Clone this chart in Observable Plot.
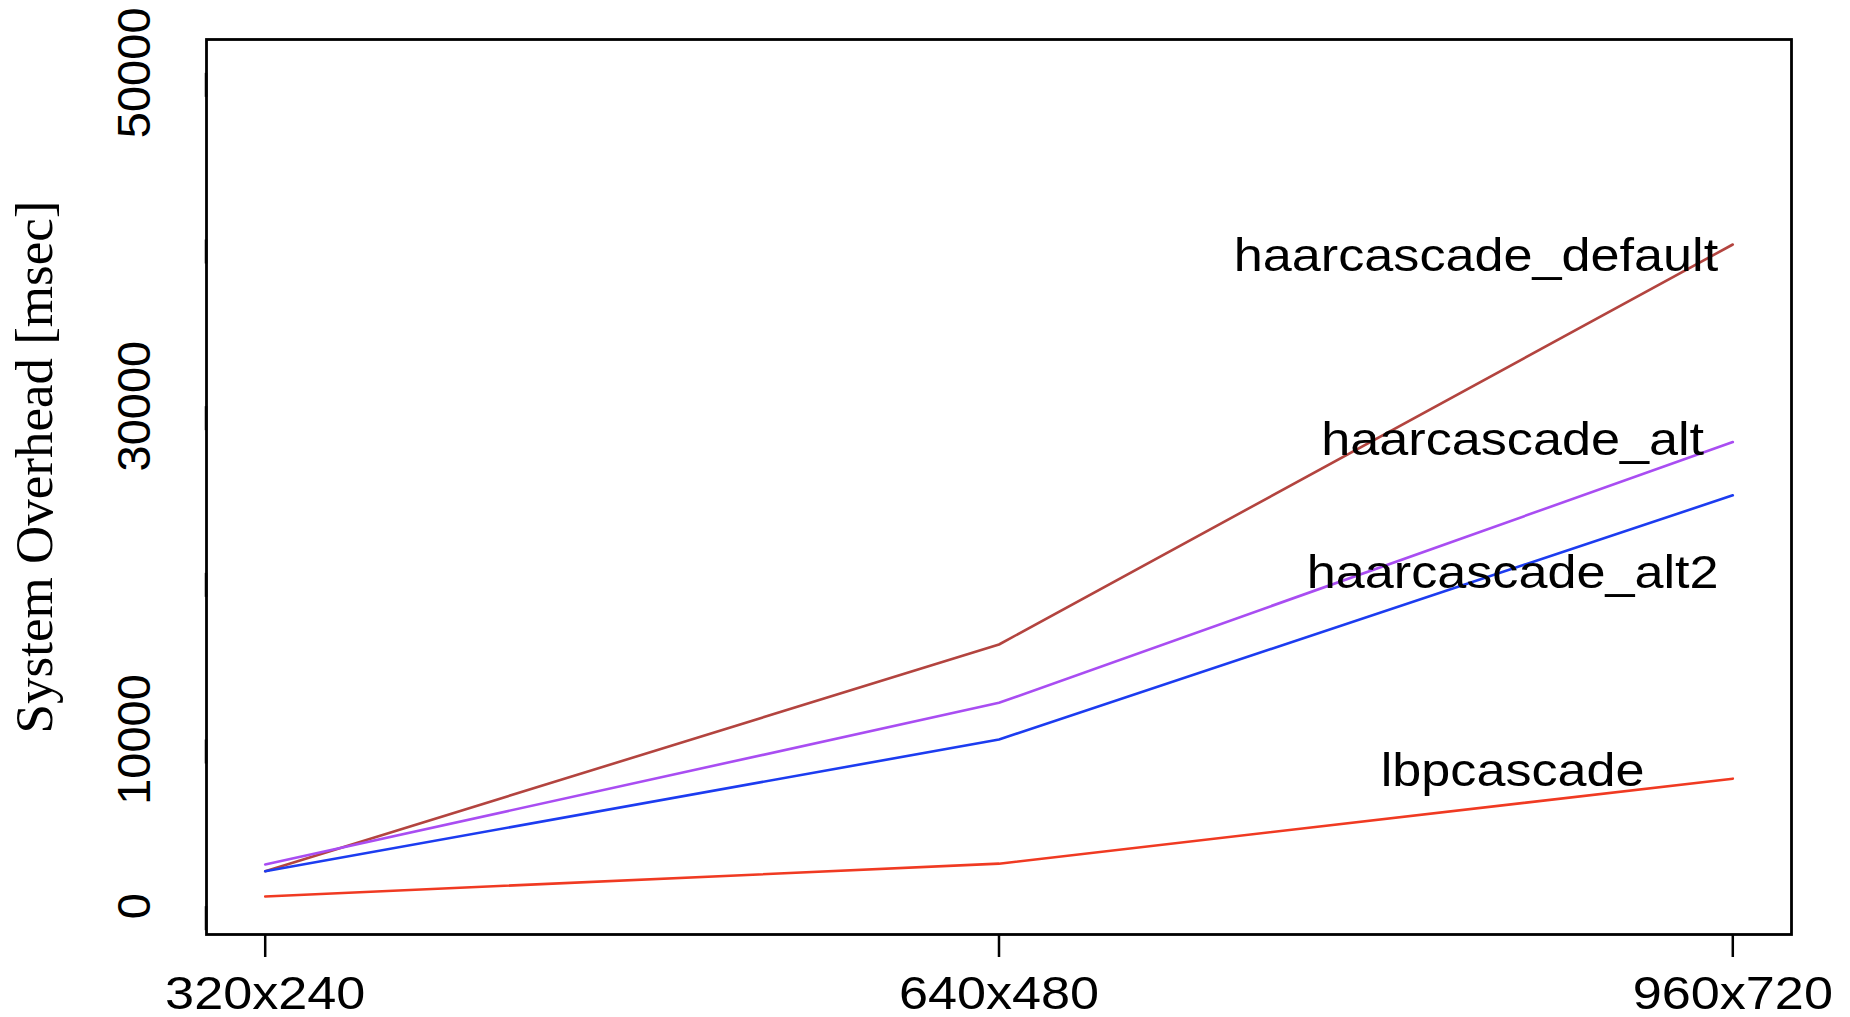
<!DOCTYPE html>
<html>
<head>
<meta charset="utf-8">
<script src="https://cdn.jsdelivr.net/npm/d3@7"></script>
<script src="https://cdn.jsdelivr.net/npm/@observablehq/plot@0.6"></script>
<style>
  html, body { margin: 0; padding: 0; background: #fff; }
</style>
</head>
<body>
<div id="chart"></div>
<script>
// Categories (x positions 1..3)
const resolutions = ["320x240", "640x480", "960x720"];
const xIndex = [1, 2, 3];

// Series names and values (msec)
const seriesNames = ["haarcascade_default", "haarcascade_alt", "haarcascade_alt2", "lbpcascade"];
const haarDefault = [2100, 15700, 39700];
const haarAlt     = [2500, 12200, 27850];
const haarAlt2    = [2100, 10000, 24650];
const lbpCascade  = [580, 2550, 7650];
const seriesColors = ["#b3443f", "#a94df2", "#1c3cf0", "#f03a22"];

// Label placements (x index, y value)
const labelX = [2.65, 2.7, 2.7, 2.7];
const labelY = [39000, 28000, 20000, 8100];

// Y ticks (all tick marks) and the tick values that carry a label
const yTicks = [0, 10000, 20000, 30000, 40000, 50000];
const yTickLabels = [0, 10000, 30000, 50000];
const yTitle = "System Overhead [msec]";

const seriesValues = [haarDefault, haarAlt, haarAlt2, lbpCascade];
const rows = [];
seriesNames.forEach((s, k) => {
  xIndex.forEach((x, j) => rows.push({series: s, x, v: seriesValues[k][j]}));
});
const labels = seriesNames.map((s, k) => ({series: s, x: labelX[k], y: labelY[k]}));

const sans = "'Liberation Sans', Arial, Helvetica, sans-serif";
const serif = "'Liberation Serif', 'Times New Roman', serif";

const chart = Plot.plot({
  width: 1850,
  height: 1017,
  marginLeft: 206,
  marginRight: 59,
  marginTop: 39,
  marginBottom: 83,
  style: {fontFamily: sans, background: "#fff", color: "#000"},
  x: {type: "linear", domain: [0.92, 3.08], label: null},
  y: {domain: [-1700, 52000], label: null},
  color: {domain: seriesNames, range: seriesColors},
  marks: [
    Plot.line(rows, {x: "x", y: "v", z: "series", stroke: "series", strokeWidth: 2.6}),
    Plot.text(labels, {x: "x", y: "y", text: "series", fontSize: 47, fill: "#000",
      textAnchor: "middle", lineAnchor: "middle", fontFamily: sans}),
    Plot.frame({stroke: "#000", strokeWidth: 2.8}),
    Plot.axisX({ticks: xIndex, tickFormat: (d) => resolutions[d - 1], tickSize: 23, tickPadding: 18,
      fontSize: 47, strokeWidth: 2.5, stroke: "#000", fill: "#000", label: null}),
    Plot.axisY({ticks: yTicks, tickFormat: (d) => (yTickLabels.includes(d) ? String(d) : ""),
      tickSize: 24, tickPadding: 48,
      rotate: -90, textAnchor: "middle", lineAnchor: "middle", fontSize: 47,
      strokeWidth: 2.5, stroke: "#000", fill: "#000", label: null}),
    Plot.text([yTitle], {frameAnchor: "left", dx: -171, dy: -20, rotate: -90, fontSize: 53,
      fontFamily: serif, fill: "#000", textAnchor: "middle", lineAnchor: "middle"})
  ]
});
document.getElementById("chart").append(chart);

// Emulate the horizontal stretch of the original raster for horizontal text
const stretch = 1.11;
const stretchSet = new Set([...resolutions, ...seriesNames]);
d3.select(chart).selectAll("text")
  .filter(function () { return stretchSet.has(this.textContent); })
  .each(function () {
    const len = this.getComputedTextLength();
    this.setAttribute("textLength", (len * stretch).toFixed(1));
    this.setAttribute("lengthAdjust", "spacingAndGlyphs");
  });
</script>
</body>
</html>
